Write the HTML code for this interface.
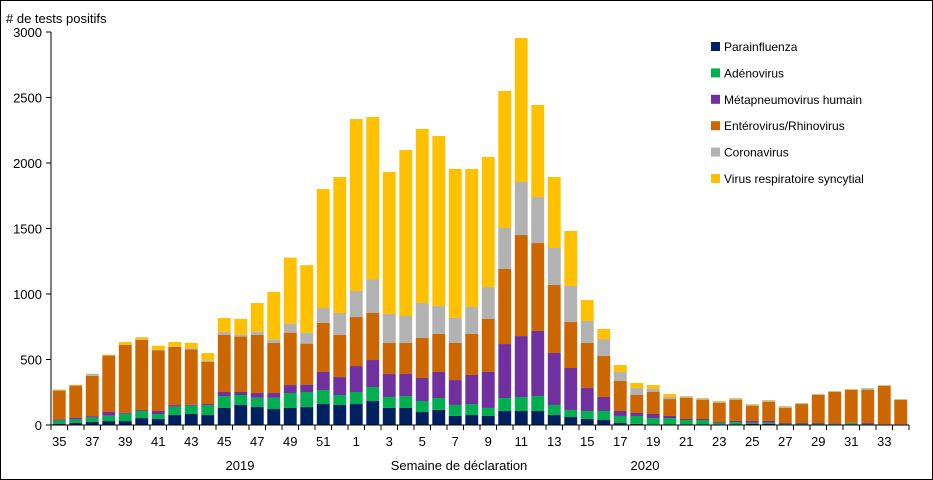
<!DOCTYPE html>
<html><head><meta charset="utf-8"><style>
body{margin:0;background:#fff}
svg{display:block;font-family:"Liberation Sans",Arial,sans-serif}
</style></head><body>
<svg id="chart" width="933" height="480">
<rect x="0.5" y="0.5" width="932" height="479" fill="#fff" stroke="#000"/>
<text x="6" y="23" font-size="13"># de tests positifs</text>
<g id="bars"></g><g id="axes"></g><g id="legend"></g>
<text x="240" y="470" font-size="13" text-anchor="middle">2019</text>
<text x="459" y="470" font-size="13" text-anchor="middle">Semaine de déclaration</text>
<text x="645" y="470" font-size="13" text-anchor="middle">2020</text>
</svg>
<script>
const weeks=[35,36,37,38,39,40,41,42,43,44,45,46,47,48,49,50,51,52,1,2,3,4,5,6,7,8,9,10,11,12,13,14,15,16,17,18,19,20,21,22,23,24,25,26,27,28,29,30,31,32,33,34];
const seriesNames=["Parainfluenza","Adénovirus","Métapneumovirus humain","Entérovirus/Rhinovirus","Coronavirus","Virus respiratoire syncytial"];
const parainfluenza=[10,17,25,30,30,53,46,76,84,76,130,153,137,122,130,137,160,153,160,183,130,130,99,115,69,76,69,107,107,107,76,61,46,38,15,8,5,3,3,3,5,2,10,8,3,3,3,6,3,3,2,2];
const adenovirus=[25,26,33,41,56,54,38,64,64,74,91,76,71,86,114,115,107,76,92,107,84,91,84,91,84,84,61,99,107,114,77,54,61,69,54,61,48,50,35,35,12,20,7,9,5,5,5,2,10,5,2,2];
const metapneumo=[8,13,10,28,8,7,23,12,7,10,31,23,36,36,61,56,138,137,198,206,175,168,176,199,190,222,275,412,465,497,397,320,175,107,38,23,31,16,8,8,6,9,14,14,7,7,7,4,3,7,2,2];
const enterorhino=[220,245,307,431,517,535,462,445,422,321,435,423,443,384,400,313,374,321,374,359,237,237,305,290,283,313,404,573,771,671,519,351,344,313,229,137,168,129,160,145,145,160,114,145,115,145,214,240,251,252,292,185];
const coronavirus=[3,2,15,3,3,5,5,3,10,10,23,15,26,26,69,84,114,168,199,259,221,206,267,213,191,206,244,313,405,351,282,275,168,129,69,53,23,16,10,10,10,10,10,10,10,6,6,5,5,12,5,5];
const rsv=[5,4,2,4,20,16,31,34,40,58,107,120,218,361,504,515,908,1038,1313,1237,1084,1267,1329,1298,1137,1053,993,1046,1099,703,542,420,160,77,53,39,30,23,5,5,5,5,5,5,5,2,2,3,3,3,2,2];
const yTicks=[0,500,1000,1500,2000,2500,3000];
const colors=["#002060","#00b050","#7030a0","#cc6600","#b2b2b2","#ffc000"];
const NS="http://www.w3.org/2000/svg";
const x0=51,x1=909,yBase=425,yTop=32,yMax=3000;
const slot=(x1-x0)/weeks.length;
function xPos(i){return x0+i*slot;}
function yPos(v){return yBase-(v/yMax)*(yBase-yTop);}
function mk(tag,attrs,parent){const e=document.createElementNS(NS,tag);for(const k in attrs)e.setAttribute(k,attrs[k]);parent.appendChild(e);return e;}
const series=[parainfluenza,adenovirus,metapneumo,enterorhino,coronavirus,rsv];
const bars=document.getElementById('bars');
weeks.forEach((w,i)=>{
  let cum=0;
  series.forEach((s,k)=>{
    const v=s[i];const yt=yPos(cum+v),yb=yPos(cum);cum+=v;
    const r=mk('rect',{x:xPos(i)+1.8,y:yt,width:slot-3.6,height:Math.max(0,yb-yt),fill:colors[k]},bars);
    
    
  });
});
const axes=document.getElementById('axes');
const xa=mk('line',{x1:x0,y1:yBase,x2:x1,y2:yBase,stroke:'#000'},axes);


const ya=mk('line',{x1:x0,y1:yTop,x2:x0,y2:yBase,stroke:'#000'},axes);


yTicks.forEach(t=>{
  mk('line',{x1:x0-5,y1:yPos(t),x2:x0,y2:yPos(t),stroke:'#000'},axes);
  const tx=mk('text',{x:x0-9,y:yPos(t)+5,'font-size':13,'text-anchor':'end'},axes);
  tx.textContent=t;
  
  
});
for(let i=0;i<=weeks.length;i++){mk('line',{x1:xPos(i),y1:yBase,x2:xPos(i),y2:yBase+5,stroke:'#000'},axes);}
weeks.forEach((w,i)=>{
  if(i%2===0){
    const tx=mk('text',{x:xPos(i)+slot/2,y:446,'font-size':13,'text-anchor':'middle'},axes);
    tx.textContent=w;
    
    
  }
});
const lg=document.getElementById('legend');
seriesNames.forEach((n,k)=>{
  const y=47+k*26.4;
  const g=mk('g',{},lg);
  
  
  mk('rect',{x:711,y:y-5,width:9,height:9,fill:colors[k]},g);
  const t=mk('text',{x:724,y:y+4,'font-size':12},g);
  t.textContent=n;
});
</script>
</body></html>
